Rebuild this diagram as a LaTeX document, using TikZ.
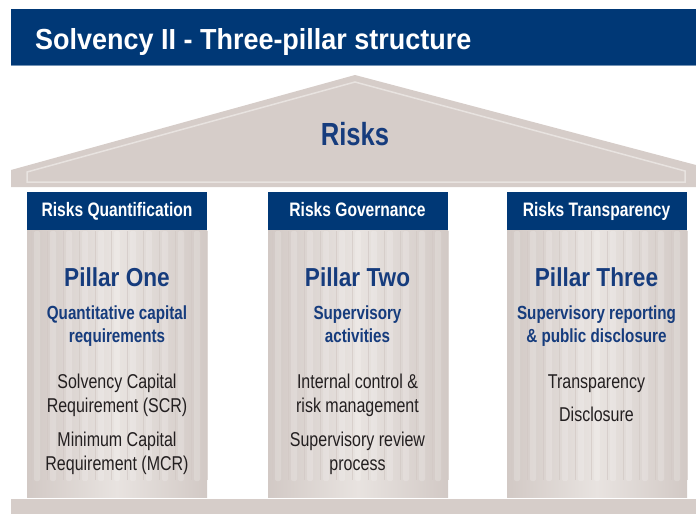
\documentclass[tikz,border=0pt]{standalone}
\usepackage{fontspec}
\setmainfont{Liberation Sans}
\newfontfamily\narrowfont[FakeStretch=0.8]{Liberation Sans}
\newfontfamily\pillarfont[FakeStretch=0.87]{Liberation Sans}
\newfontfamily\titlefont[FakeStretch=0.93]{Liberation Sans}
\usetikzlibrary{positioning,calc}
\definecolor{navy}{RGB}{0,56,118}
\definecolor{inkblue}{RGB}{22,60,125}
\definecolor{inkgray}{RGB}{35,31,32}
\definecolor{stone}{RGB}{214,205,201}
\definecolor{stonedark}{RGB}{210,201,197}
\definecolor{stonelight}{RGB}{232,227,224}

\begin{document}
\begin{tikzpicture}[x=1pt, y=-1pt,
  headbar/.style={fill=navy, text=white, minimum width=180, minimum height=38, inner sep=0, text height=14, text depth=4, font=\narrowfont\bfseries\fontsize{19.5}{23}\selectfont},
  pillarname/.style={anchor=base, text=inkblue, font=\pillarfont\bfseries\fontsize{26}{30}\selectfont},
  aim/.style={anchor=base, align=center, text=inkblue, font=\narrowfont\bfseries\fontsize{19}{23}\selectfont},
  item/.style={anchor=base, align=center, text=inkgray, font=\narrowfont\fontsize{20}{24}\selectfont}]
\useasboundingbox (0,0) rectangle (696,514);

% title band
\fill[navy] (11,9) rectangle (696,66);
\draw[navy!55, line width=1] (11,65.5) -- (696,65.5);
\node[anchor=base west, inner sep=0, text=white, font=\titlefont\bfseries\fontsize{29}{34}\selectfont] (title) at (35,49) {Solvency II - Three-pillar structure};

% roof and base
\fill[stone] (11,187) -- (11,170) -- (355,75) -- (696,165) -- (696,187) -- cycle;
\draw[stonelight, line width=1.5] (27,182) -- (27,172) -- (355,82) -- (685,171) -- (685,182) -- cycle;
\node[anchor=base, text=inkblue, font=\narrowfont\bfseries\fontsize{32}{36}\selectfont] (risks) at (355,145) {Risks};
\fill[stone] (11,499) rectangle (696,514);

% pillar bodies with fluting
\foreach \x in {27,268,507} {
  \shade[left color=stonedark, right color=stonedark, middle color=stonelight] (\x,230) rectangle ++(180,267);
  \foreach \s in {0,...,10}
    \fill[white, opacity=0.18, rounded corners=2] (\x+7+\s*16,231) rectangle ++(6,250);
  \foreach \s in {0,...,11}
    \draw[stonedark, opacity=0.7, line width=0.8] (\x+4.5+\s*16,231) -- ++(0,249);
}

% pillar one
\node[headbar] (head1) at (117,211) {Risks Quantification};
\node[pillarname] (one) at (117,286) {Pillar One};
\node[aim] (aim1) at (117,342) {Quantitative capital\\requirements};
\node[item] (scr) at (117,412) {Solvency Capital\\Requirement (SCR)};
\node[item] (mcr) at (117,470) {Minimum Capital\\Requirement (MCR)};

% pillar two
\node[headbar] (head2) at (357.5,211) {Risks Governance};
\node[pillarname] (two) at (357.5,286) {Pillar Two};
\node[aim] (aim2) at (357.5,342) {Supervisory\\activities};
\node[item] (control) at (357.5,412) {Internal control \&\\risk management};
\node[item] (review) at (357.5,470) {Supervisory review\\process};

% pillar three
\node[headbar] (head3) at (596.5,211) {Risks Transparency};
\node[pillarname] (three) at (596.5,286) {Pillar Three};
\node[aim] (aim3) at (596.5,342) {Supervisory reporting\\\& public disclosure};
\node[item] (transp) at (596.5,388) {Transparency};
\node[item] (discl) at (596.5,421) {Disclosure};
\end{tikzpicture}
\end{document}
